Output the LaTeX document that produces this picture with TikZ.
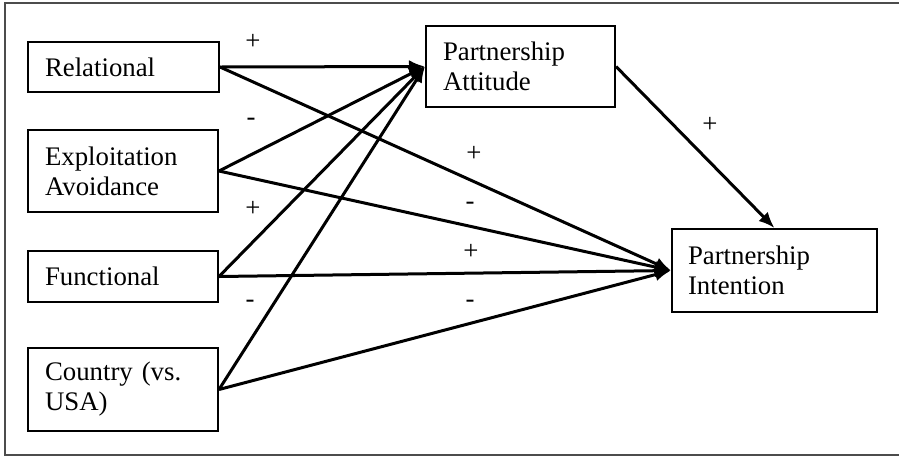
\documentclass[tikz,border=0pt]{standalone}
\usepackage{fontspec}
\setmainfont{Liberation Serif}
\usetikzlibrary{arrows.meta}

\begin{document}
\begin{tikzpicture}[x=0.5pt,y=-0.5pt,
	factor/.style={draw,line width=1pt,align=left,inner xsep=8.5pt,inner ysep=0pt,font=\fontsize{13.4}{15}\selectfont},
	effect/.style={-{Latex[length=8pt,width=6.5pt]},line width=1.5pt},
	sign/.style={inner sep=0pt,font=\fontsize{13.4}{15}\selectfont}]
	\useasboundingbox (0,0) rectangle (899,456);
	\draw[black!70,line width=1pt] (899,2.5) -- (5,2.5) -- (5,455) -- (899,455);
	
	\node[factor,text width=78.5pt,minimum height=25pt] (rel) at (123.5,67) {Relational};
	\node[factor,text width=78pt,minimum height=41pt] (exp) at (123,171) {Exploitation\\Avoidance};
	\node[factor,text width=78pt,minimum height=25.5pt] (fun) at (123,276.5) {Functional};
	\node[factor,text width=78pt,minimum height=41.5pt] (cou) at (123,389.5) {Country (vs.\\USA)};
	\node[factor,text width=77.5pt,minimum height=40.5pt] (att) at (520.5,66.5) {Partnership\\Attitude};
	\node[factor,text width=86.5pt,inner xsep=8pt,minimum height=41.5pt] (int) at (774.5,270.5) {Partnership\\Intention};
	
	\foreach \src in {rel,exp,fun,cou}{
		\draw[effect] (\src.east) -- (att.west);
		\draw[effect] (\src.east) -- (int.west);
	}
	\draw[effect] (att.east) -- (int.north);
	
	\node[sign] (relatt) at (253,42) {+};
	\node[sign] (expatt) at (251,122) {-};
	\node[sign] (funatt) at (253,209) {+};
	\node[sign] (couatt) at (250,304) {-};
	\node[sign] (relint) at (474,154) {+};
	\node[sign] (expint) at (470,206) {-};
	\node[sign] (funint) at (471,252) {+};
	\node[sign] (couint) at (470,304) {-};
	\node[sign] (attint) at (710,125) {+};
\end{tikzpicture}
\end{document}
